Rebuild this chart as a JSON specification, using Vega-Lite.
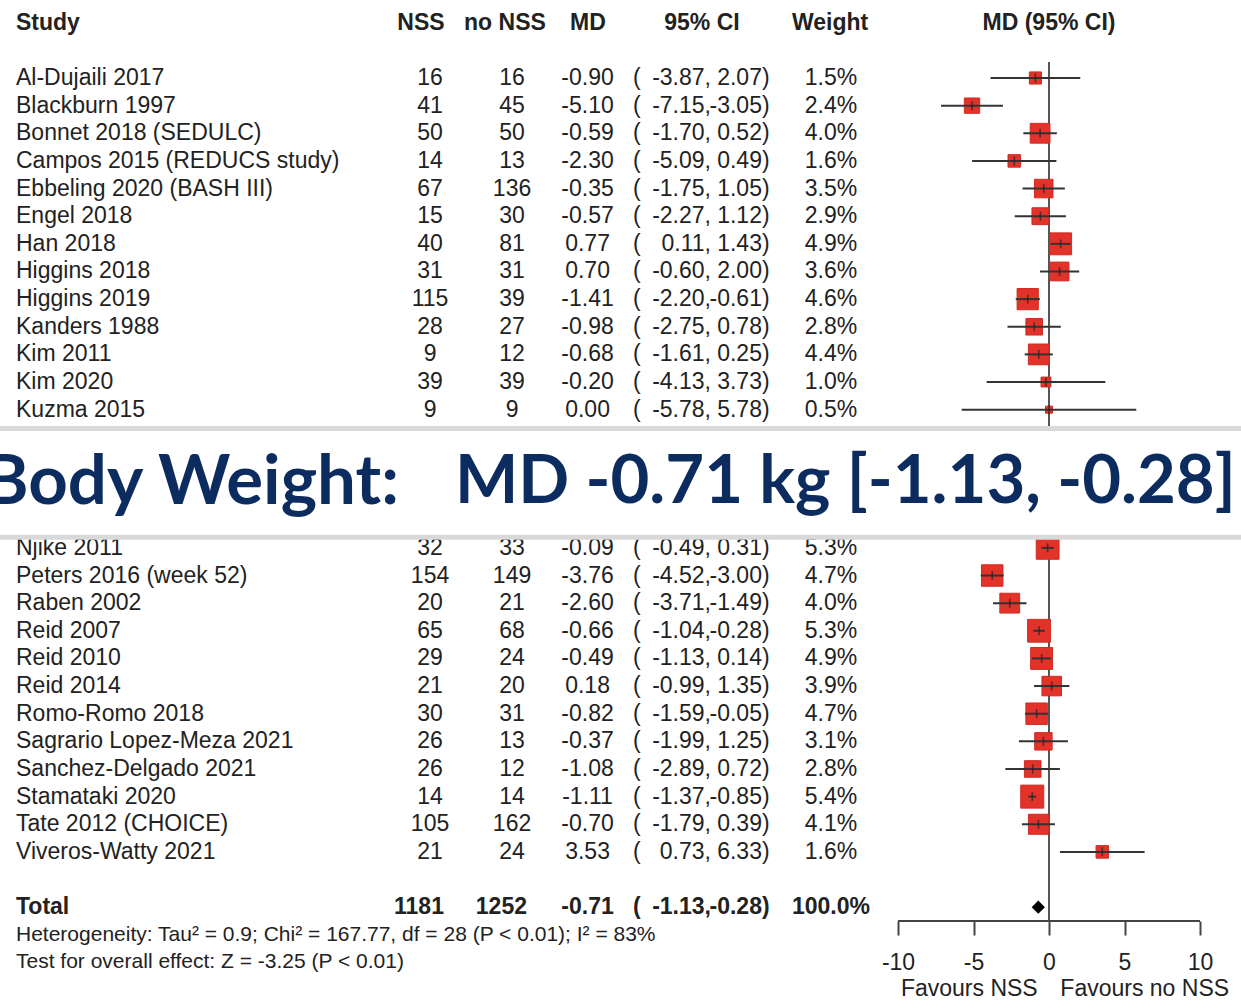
{
  "$schema": "https://vega.github.io/schema/vega-lite/v6.json",
  "width": 1241,
  "height": 921,
  "autosize": {"type": "none"},
  "padding": {"left": 0, "top": 0, "right": 0, "bottom": 79},
  "background": "white",
  "config": {
    "view": {"stroke": null},
    "locale": {"number": {"decimal": ".", "thousands": ",", "grouping": [3], "currency": ["$", ""], "minus": "-"}},
    "text": {"font": "Liberation Sans", "fontSize": 23, "color": "#222222", "baseline": "middle"}
  },
  "data": {"values": [{}]},
  "datasets": {
    "studies": [
      {"study": "Al-Dujaili 2017", "row": 1, "nss": 16, "nonss": 16, "md": -0.90, "lo": -3.87, "hi": 2.07, "weight": 0.015},
      {"study": "Blackburn 1997", "row": 2, "nss": 41, "nonss": 45, "md": -5.10, "lo": -7.15, "hi": -3.05, "weight": 0.024},
      {"study": "Bonnet 2018 (SEDULC)", "row": 3, "nss": 50, "nonss": 50, "md": -0.59, "lo": -1.70, "hi": 0.52, "weight": 0.040},
      {"study": "Campos 2015 (REDUCS study)", "row": 4, "nss": 14, "nonss": 13, "md": -2.30, "lo": -5.09, "hi": 0.49, "weight": 0.016},
      {"study": "Ebbeling 2020 (BASH III)", "row": 5, "nss": 67, "nonss": 136, "md": -0.35, "lo": -1.75, "hi": 1.05, "weight": 0.035},
      {"study": "Engel 2018", "row": 6, "nss": 15, "nonss": 30, "md": -0.57, "lo": -2.27, "hi": 1.12, "weight": 0.029},
      {"study": "Han 2018", "row": 7, "nss": 40, "nonss": 81, "md": 0.77, "lo": 0.11, "hi": 1.43, "weight": 0.049},
      {"study": "Higgins 2018", "row": 8, "nss": 31, "nonss": 31, "md": 0.70, "lo": -0.60, "hi": 2.00, "weight": 0.036},
      {"study": "Higgins 2019", "row": 9, "nss": 115, "nonss": 39, "md": -1.41, "lo": -2.20, "hi": -0.61, "weight": 0.046},
      {"study": "Kanders 1988", "row": 10, "nss": 28, "nonss": 27, "md": -0.98, "lo": -2.75, "hi": 0.78, "weight": 0.028},
      {"study": "Kim 2011", "row": 11, "nss": 9, "nonss": 12, "md": -0.68, "lo": -1.61, "hi": 0.25, "weight": 0.044},
      {"study": "Kim 2020", "row": 12, "nss": 39, "nonss": 39, "md": -0.20, "lo": -4.13, "hi": 3.73, "weight": 0.010},
      {"study": "Kuzma 2015", "row": 13, "nss": 9, "nonss": 9, "md": 0.00, "lo": -5.78, "hi": 5.78, "weight": 0.005},
      {"study": "Njike 2011", "row": 18, "nss": 32, "nonss": 33, "md": -0.09, "lo": -0.49, "hi": 0.31, "weight": 0.053},
      {"study": "Peters 2016 (week 52)", "row": 19, "nss": 154, "nonss": 149, "md": -3.76, "lo": -4.52, "hi": -3.00, "weight": 0.047},
      {"study": "Raben 2002", "row": 20, "nss": 20, "nonss": 21, "md": -2.60, "lo": -3.71, "hi": -1.49, "weight": 0.040},
      {"study": "Reid 2007", "row": 21, "nss": 65, "nonss": 68, "md": -0.66, "lo": -1.04, "hi": -0.28, "weight": 0.053},
      {"study": "Reid 2010", "row": 22, "nss": 29, "nonss": 24, "md": -0.49, "lo": -1.13, "hi": 0.14, "weight": 0.049},
      {"study": "Reid 2014", "row": 23, "nss": 21, "nonss": 20, "md": 0.18, "lo": -0.99, "hi": 1.35, "weight": 0.039},
      {"study": "Romo-Romo 2018", "row": 24, "nss": 30, "nonss": 31, "md": -0.82, "lo": -1.59, "hi": -0.05, "weight": 0.047},
      {"study": "Sagrario Lopez-Meza 2021", "row": 25, "nss": 26, "nonss": 13, "md": -0.37, "lo": -1.99, "hi": 1.25, "weight": 0.031},
      {"study": "Sanchez-Delgado 2021", "row": 26, "nss": 26, "nonss": 12, "md": -1.08, "lo": -2.89, "hi": 0.72, "weight": 0.028},
      {"study": "Stamataki 2020", "row": 27, "nss": 14, "nonss": 14, "md": -1.11, "lo": -1.37, "hi": -0.85, "weight": 0.054},
      {"study": "Tate 2012 (CHOICE)", "row": 28, "nss": 105, "nonss": 162, "md": -0.70, "lo": -1.79, "hi": 0.39, "weight": 0.041},
      {"study": "Viveros-Watty 2021", "row": 29, "nss": 21, "nonss": 24, "md": 3.53, "lo": 0.73, "hi": 6.33, "weight": 0.016}
    ],
    "total": [
      {"study": "Total", "row": 31, "nss": 1181, "nonss": 1252, "md": -0.71, "lo": -1.13, "hi": -0.28, "weight": 1.0}
    ]
  },
  "layer": [
    {
      "mark": {"type": "rule", "color": "#555555", "strokeWidth": 2},
      "encoding": {
        "x": {
          "datum": 0, "type": "quantitative",
          "scale": {"domain": [-69.47, 12.715], "nice": false, "zero": false},
          "axis": {"values": [-10, -5, 0, 5, 10], "domain": false, "grid": false, "ticks": true, "tickSize": 14, "tickWidth": 2, "tickColor": "#444444", "labelFont": "Liberation Sans", "labelFontSize": 23, "labelColor": "#222222", "labelPadding": 16, "labelFlush": false, "labelOverlap": false, "format": "d", "title": null}
        },
        "y": {"datum": 0.42, "type": "quantitative", "scale": {"domain": [-1.822, 31.5], "reverse": true, "nice": false, "zero": false}, "axis": null},
        "y2": {"datum": 31.5}
      }
    },
    {
      "mark": {"type": "rule", "color": "#444444", "strokeWidth": 2},
      "encoding": {
        "x": {"datum": -10, "type": "quantitative"},
        "x2": {"datum": 10},
        "y": {"datum": 31.5, "type": "quantitative"}
      }
    },
    {
      "data": {"name": "studies"},
      "mark": {"type": "square", "filled": true, "color": "#e3322a", "stroke": "#cf2b22", "strokeWidth": 1, "opacity": 1},
      "encoding": {
        "x": {"field": "md", "type": "quantitative"},
        "y": {"field": "row", "type": "quantitative"},
        "size": {"field": "weight", "type": "quantitative", "scale": {"domain": [0, 0.1], "range": [0, 980]}, "legend": null}
      }
    },
    {
      "data": {"name": "studies"},
      "mark": {"type": "rule", "color": "#333333", "strokeWidth": 2},
      "encoding": {
        "x": {"field": "lo", "type": "quantitative"},
        "x2": {"field": "hi"},
        "y": {"field": "row", "type": "quantitative"}
      }
    },
    {
      "data": {"name": "studies"},
      "mark": {"type": "tick", "orient": "vertical", "color": "#222222", "size": 9, "thickness": 1.6},
      "encoding": {
        "x": {"field": "md", "type": "quantitative"},
        "y": {"field": "row", "type": "quantitative"}
      }
    },
    {
      "data": {"name": "total"},
      "mark": {"type": "point", "shape": "diamond", "filled": true, "color": "#000000", "size": 175, "opacity": 1},
      "encoding": {
        "x": {"field": "md", "type": "quantitative"},
        "y": {"field": "row", "type": "quantitative"}
      }
    },

    {"mark": {"type": "text", "align": "left", "fontWeight": "bold"}, "encoding": {"x": {"datum": -68.41, "type": "quantitative"}, "y": {"datum": -1, "type": "quantitative"}, "text": {"value": "Study"}}},
    {"mark": {"type": "text", "align": "center", "fontWeight": "bold"}, "encoding": {"x": {"datum": -41.59, "type": "quantitative"}, "y": {"datum": -1, "type": "quantitative"}, "text": {"value": "NSS"}}},
    {"mark": {"type": "text", "align": "center", "fontWeight": "bold"}, "encoding": {"x": {"datum": -36.03, "type": "quantitative"}, "y": {"datum": -1, "type": "quantitative"}, "text": {"value": "no NSS"}}},
    {"mark": {"type": "text", "align": "center", "fontWeight": "bold"}, "encoding": {"x": {"datum": -30.53, "type": "quantitative"}, "y": {"datum": -1, "type": "quantitative"}, "text": {"value": "MD"}}},
    {"mark": {"type": "text", "align": "center", "fontWeight": "bold"}, "encoding": {"x": {"datum": -22.98, "type": "quantitative"}, "y": {"datum": -1, "type": "quantitative"}, "text": {"value": "95% CI"}}},
    {"mark": {"type": "text", "align": "center", "fontWeight": "bold"}, "encoding": {"x": {"datum": -14.5, "type": "quantitative"}, "y": {"datum": -1, "type": "quantitative"}, "text": {"value": "Weight"}}},
    {"mark": {"type": "text", "align": "center", "fontWeight": "bold"}, "encoding": {"x": {"datum": 0, "type": "quantitative"}, "y": {"datum": -1, "type": "quantitative"}, "text": {"value": "MD (95% CI)"}}},

    {"data": {"name": "studies"}, "mark": {"type": "text", "align": "left"}, "encoding": {"x": {"datum": -68.41, "type": "quantitative"}, "y": {"field": "row", "type": "quantitative"}, "text": {"field": "study"}}},
    {"data": {"name": "studies"}, "mark": {"type": "text", "align": "center"}, "encoding": {"x": {"datum": -40.99, "type": "quantitative"}, "y": {"field": "row", "type": "quantitative"}, "text": {"field": "nss", "type": "quantitative", "format": "d"}}},
    {"data": {"name": "studies"}, "mark": {"type": "text", "align": "center"}, "encoding": {"x": {"datum": -35.56, "type": "quantitative"}, "y": {"field": "row", "type": "quantitative"}, "text": {"field": "nonss", "type": "quantitative", "format": "d"}}},
    {"data": {"name": "studies"}, "mark": {"type": "text", "align": "center"}, "encoding": {"x": {"datum": -30.56, "type": "quantitative"}, "y": {"field": "row", "type": "quantitative"}, "text": {"field": "md", "type": "quantitative", "format": ".2f"}}},
    {"data": {"name": "studies"}, "mark": {"type": "text", "align": "left"}, "encoding": {"x": {"datum": -27.55, "type": "quantitative"}, "y": {"field": "row", "type": "quantitative"}, "text": {"value": "("}}},
    {"data": {"name": "studies"}, "mark": {"type": "text", "align": "right"}, "encoding": {"x": {"datum": -22.81, "type": "quantitative"}, "y": {"field": "row", "type": "quantitative"}, "text": {"field": "lo", "type": "quantitative", "format": ".2f"}}},
    {"data": {"name": "studies"}, "mark": {"type": "text", "align": "left"}, "encoding": {"x": {"datum": -22.81, "type": "quantitative"}, "y": {"field": "row", "type": "quantitative"}, "text": {"value": ","}}},
    {"data": {"name": "studies"}, "mark": {"type": "text", "align": "right"}, "encoding": {"x": {"datum": -19.01, "type": "quantitative"}, "y": {"field": "row", "type": "quantitative"}, "text": {"field": "hi", "type": "quantitative", "format": ".2f"}}},
    {"data": {"name": "studies"}, "mark": {"type": "text", "align": "left"}, "encoding": {"x": {"datum": -19.01, "type": "quantitative"}, "y": {"field": "row", "type": "quantitative"}, "text": {"value": ")"}}},
    {"data": {"name": "studies"}, "mark": {"type": "text", "align": "center"}, "encoding": {"x": {"datum": -14.44, "type": "quantitative"}, "y": {"field": "row", "type": "quantitative"}, "text": {"field": "weight", "type": "quantitative", "format": ".1%"}}},

    {"data": {"name": "total"}, "mark": {"type": "text", "align": "left", "fontWeight": "bold"}, "encoding": {"x": {"datum": -68.41, "type": "quantitative"}, "y": {"field": "row", "type": "quantitative"}, "text": {"field": "study"}}},
    {"data": {"name": "total"}, "mark": {"type": "text", "align": "right", "fontWeight": "bold"}, "encoding": {"x": {"datum": -40.07, "type": "quantitative"}, "y": {"field": "row", "type": "quantitative"}, "text": {"field": "nss", "type": "quantitative", "format": "d"}}},
    {"data": {"name": "total"}, "mark": {"type": "text", "align": "right", "fontWeight": "bold"}, "encoding": {"x": {"datum": -34.57, "type": "quantitative"}, "y": {"field": "row", "type": "quantitative"}, "text": {"field": "nonss", "type": "quantitative", "format": "d"}}},
    {"data": {"name": "total"}, "mark": {"type": "text", "align": "center", "fontWeight": "bold"}, "encoding": {"x": {"datum": -30.56, "type": "quantitative"}, "y": {"field": "row", "type": "quantitative"}, "text": {"field": "md", "type": "quantitative", "format": ".2f"}}},
    {"data": {"name": "total"}, "mark": {"type": "text", "align": "left", "fontWeight": "bold"}, "encoding": {"x": {"datum": -27.55, "type": "quantitative"}, "y": {"field": "row", "type": "quantitative"}, "text": {"value": "("}}},
    {"data": {"name": "total"}, "mark": {"type": "text", "align": "right", "fontWeight": "bold"}, "encoding": {"x": {"datum": -22.81, "type": "quantitative"}, "y": {"field": "row", "type": "quantitative"}, "text": {"field": "lo", "type": "quantitative", "format": ".2f"}}},
    {"data": {"name": "total"}, "mark": {"type": "text", "align": "left", "fontWeight": "bold"}, "encoding": {"x": {"datum": -22.81, "type": "quantitative"}, "y": {"field": "row", "type": "quantitative"}, "text": {"value": ","}}},
    {"data": {"name": "total"}, "mark": {"type": "text", "align": "right", "fontWeight": "bold"}, "encoding": {"x": {"datum": -19.01, "type": "quantitative"}, "y": {"field": "row", "type": "quantitative"}, "text": {"field": "hi", "type": "quantitative", "format": ".2f"}}},
    {"data": {"name": "total"}, "mark": {"type": "text", "align": "left", "fontWeight": "bold"}, "encoding": {"x": {"datum": -19.01, "type": "quantitative"}, "y": {"field": "row", "type": "quantitative"}, "text": {"value": ")"}}},
    {"data": {"name": "total"}, "mark": {"type": "text", "align": "center", "fontWeight": "bold"}, "encoding": {"x": {"datum": -14.44, "type": "quantitative"}, "y": {"field": "row", "type": "quantitative"}, "text": {"field": "weight", "type": "quantitative", "format": ".1%"}}},

    {"mark": {"type": "text", "align": "left", "fontSize": 21}, "encoding": {"x": {"datum": -68.41, "type": "quantitative"}, "y": {"datum": 32, "type": "quantitative"}, "text": {"value": "Heterogeneity: Tau² = 0.9; Chi² = 167.77, df = 28 (P < 0.01); I² = 83%"}}},
    {"mark": {"type": "text", "align": "left", "fontSize": 21}, "encoding": {"x": {"datum": -68.41, "type": "quantitative"}, "y": {"datum": 33, "type": "quantitative"}, "text": {"value": "Test for overall effect: Z = -3.25 (P < 0.01)"}}},
    {"mark": {"type": "text", "align": "right"}, "encoding": {"x": {"datum": -0.75, "type": "quantitative"}, "y": {"datum": 33.97, "type": "quantitative"}, "text": {"value": "Favours NSS"}}},
    {"mark": {"type": "text", "align": "left"}, "encoding": {"x": {"datum": 0.75, "type": "quantitative"}, "y": {"datum": 33.97, "type": "quantitative"}, "text": {"value": "Favours no NSS"}}},

    {
      "mark": {"type": "rect", "color": "white", "opacity": 1},
      "encoding": {
        "x": {"datum": -75, "type": "quantitative"},
        "x2": {"datum": 20},
        "y": {"datum": 13.68, "type": "quantitative"},
        "y2": {"datum": 17.62}
      }
    },
    {
      "mark": {"type": "rule", "color": "#d9d9d9", "strokeWidth": 5},
      "encoding": {
        "x": {"datum": -75, "type": "quantitative"},
        "x2": {"datum": 20},
        "y": {"datum": 13.68, "type": "quantitative"}
      }
    },
    {
      "mark": {"type": "rule", "color": "#d9d9d9", "strokeWidth": 5},
      "encoding": {
        "x": {"datum": -75, "type": "quantitative"},
        "x2": {"datum": 20},
        "y": {"datum": 17.62, "type": "quantitative"}
      }
    },
    {"mark": {"type": "text", "align": "right", "font": "Lato", "fontWeight": "bold", "fontSize": 69, "color": "#0c2c5f"}, "encoding": {"x": {"datum": -43.05, "type": "quantitative"}, "y": {"datum": 15.67, "type": "quantitative"}, "text": {"value": "Body Weight:"}}},
    {"mark": {"type": "text", "align": "left", "font": "Lato", "fontWeight": "bold", "fontSize": 67, "color": "#0c2c5f"}, "encoding": {"x": {"datum": -39.34, "type": "quantitative"}, "y": {"datum": 15.67, "type": "quantitative"}, "text": {"value": "MD -0.71 kg [-1.13, -0.28]"}}}
  ]
}
